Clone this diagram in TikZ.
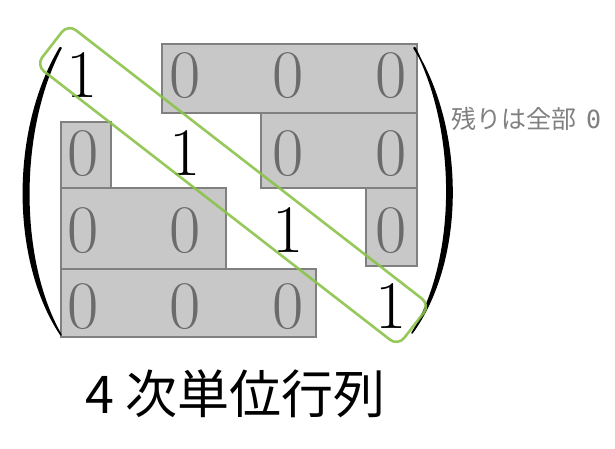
\documentclass[tikz,border=0pt]{standalone}
\usepackage{fontspec}
\setmainfont{Latin Modern Roman}
\newfontfamily\cjk{Noto Sans CJK JP}
\newfontfamily\monoz{DejaVu Sans Mono}
\definecolor{boxfill}{HTML}{C8C8C8}
\definecolor{boxline}{HTML}{808080}
\definecolor{zerocol}{HTML}{6B6B6B}
\definecolor{diaggreen}{HTML}{8BC34A}
\definecolor{notegray}{HTML}{808080}
\begin{document}
\begin{tikzpicture}[x=1pt,y=-1pt,
  graybox/.style={fill=boxfill,draw=boxline,line width=2.6pt},
  zero/.style={anchor=base,inner sep=0pt,text=zerocol,font=\fontsize{68}{68}\selectfont},
  one/.style={anchor=base,inner sep=0pt,text=black,font=\fontsize{68}{68}\selectfont},
  diagbox/.style={draw=diaggreen,line width=2.6pt,rounded corners=10pt,minimum width=458pt,minimum height=52pt,inner sep=0pt,rotate=-37.8,opacity=0.9},
  paren/.style={fill=black,draw=black,line width=1.6pt,line join=round}]
\useasboundingbox (0,0) rectangle (615,448);
\fill[white] (0,0) rectangle (615,448);
% gray blocks
\draw[graybox] (162,44) rectangle (417,113);
\draw[graybox] (61,122) rectangle (111,188);
\draw[graybox] (261,113) rectangle (417,188);
\draw[graybox] (61,188) rectangle (226,269);
\draw[graybox] (366,188) rectangle (417,266);
\draw[graybox] (61,269) rectangle (316,337);
% entries
\node[one]  (c11) at (82,97) {1};
\node[zero] (c12) at (185,97) {0};
\node[zero] (c13) at (288,97) {0};
\node[zero] (c14) at (391,97) {0};
\node[zero] (c21) at (83,175) {0};
\node[one]  (c22) at (185,175) {1};
\node[zero] (c23) at (288,175) {0};
\node[zero] (c24) at (391,175) {0};
\node[zero] (c31) at (83,252) {0};
\node[zero] (c32) at (185,252) {0};
\node[one]  (c33) at (288,252) {1};
\node[zero] (c34) at (391,252) {0};
\node[zero] (c41) at (83,328) {0};
\node[zero] (c42) at (185,328) {0};
\node[zero] (c43) at (288,328) {0};
\node[one]  (c44) at (391,328) {1};
% parentheses
\filldraw[paren] (60,48) .. controls (11,130) and (11,260) .. (61,335)
  .. controls (18,260) and (18,130) .. (61,48) -- cycle;
\filldraw[paren] (414,48) .. controls (465,130) and (465,260) .. (412,333)
  .. controls (458,260) and (458,130) .. (415,48) -- cycle;
% diagonal highlight
\node[diagbox] (diag) at (233,185) {};
% labels
\node[anchor=west,inner sep=0pt,text=notegray,font=\fontsize{25}{25}\selectfont] (note) at (451,119) {\cjk 残りは全部\hspace{10pt}\monoz 0};
\node[anchor=west,inner sep=0pt,font=\fontsize{52}{52}\selectfont\cjk] (title) at (85,394) {4\hspace{11pt}次単位行列};
\end{tikzpicture}
\end{document}
